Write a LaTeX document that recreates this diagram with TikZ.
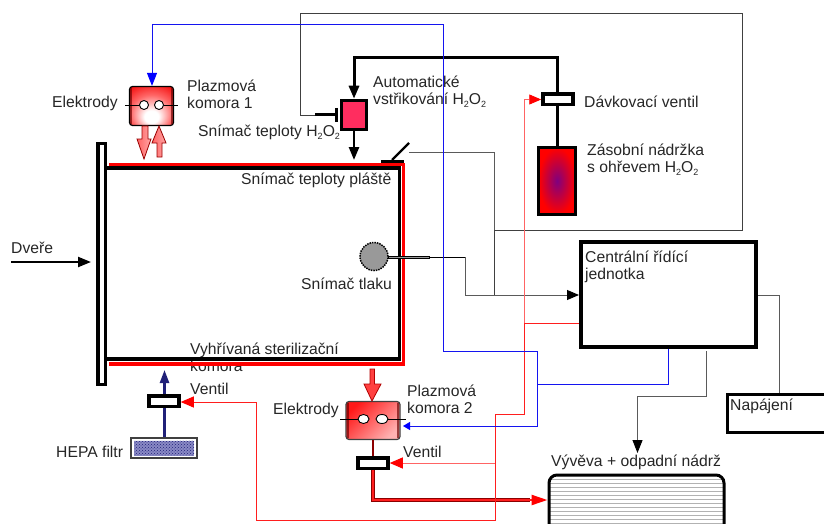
\documentclass[tikz,border=0pt]{standalone}
\usepackage{fontspec}
\setmainfont{Liberation Sans}
\usepackage{xcolor}
\usetikzlibrary{positioning, arrows.meta, shapes.misc, shapes.geometric, patterns}
\definecolor{wirered}{RGB}{255,30,30}
\definecolor{wirepink}{RGB}{255,100,100}
\definecolor{wireblue}{RGB}{20,20,240}
\definecolor{wiregray}{RGB}{90,90,90}
\definecolor{hepablue}{RGB}{40,40,150}
\definecolor{injectpink}{RGB}{255,45,95}
\newcommand{\hho}{H\raisebox{-3pt}{\fontsize{9}{9}\selectfont 2}O\raisebox{-3pt}{\fontsize{9}{9}\selectfont 2}}
\pgfdeclareradialshading{plasmaglow}{\pgfpoint{0bp}{-16bp}}{color(0bp)=(white); color(8bp)=(white); color(24bp)=(red!60!white); color(40bp)=(red!95!black); color(60bp)=(red!85!black)}
\tikzset{
  txt/.style={font=\fontsize{15.7}{16.8}\selectfont, inner sep=0pt, anchor=west, align=left, text=black!85},
  valve/.style={draw, line width=3.5pt, fill=white, inner sep=0pt, minimum width=30pt, minimum height=10.5pt},
  plasma/.style={draw, line width=1.2pt, rounded corners=3pt, inner sep=0pt},
  plasmaside/.style={line width=2pt, red!40!black, opacity=0.65},
  hole/.style={draw, line width=0.9pt, fill=white, ellipse, inner sep=0pt},
  thin wire/.style={line width=0.9pt},
  bigarrow/.style={draw=red!60!black, line width=0.8pt, left color=wirepink, right color=red!35!white}
}
\begin{document}
\begin{tikzpicture}[x=1pt, y=-1pt, >={Stealth[inset=0pt, length=13pt, width=10pt]}]
        \useasboundingbox (0,0) rectangle (824,524);
        \node[txt] (komora) at (190,357.5) {Vyhřívaná sterilizační\\komora};
        \coordinate (chamberTL) at (107,168);
        \coordinate (chamberTR) at (399.5,168);
        \coordinate (chamberBR) at (399.5,359);
        \coordinate (chamberBL) at (107,359);
        \coordinate (jacketTL) at (109,164.5);
        \coordinate (jacketTR) at (403.5,164.5);
        \coordinate (jacketBR) at (403.5,364);
        \coordinate (jacketBL) at (109,364);
        \draw[red, line width=3.5pt] (jacketTL) -- (jacketTR) -- (jacketBR) -- (jacketBL);
        \draw[line width=3.5pt] (chamberTL) -- (chamberTR) -- (chamberBR) -- (chamberBL);
        \node[draw, line width=3.5pt, fill=white, inner sep=0pt, minimum width=7.5pt, minimum height=241pt] (door) at (101.5,264) {};
        \coordinate (dverestart) at (11,262);
        \coordinate (doorin) at (91,262);
        \draw[->, line width=2.2pt] (dverestart) -- (doorin);
        \node[txt] (dvere) at (11,248) {Dveře};

        \node[plasma, minimum width=44pt, minimum height=39pt, shading=plasmaglow] (plasmaA) at (151.5,106) {};
        \draw[plasmaside] ([xshift=2pt,yshift=-2pt]plasmaA.north west) -- ([xshift=2pt,yshift=2pt]plasmaA.south west);
        \draw[plasmaside] ([xshift=-2pt,yshift=-2pt]plasmaA.north east) -- ([xshift=-2pt,yshift=2pt]plasmaA.south east);
        \node[hole, minimum width=9pt, minimum height=9pt] (holeA) at (144,105) {};
        \node[hole, minimum width=9pt, minimum height=9pt] (holeB) at (159,105) {};
        \coordinate (leadA) at (125,105);
        \coordinate (leadB) at (178,105);
        \draw[thin wire] (leadA) -- (holeA);
        \draw[thin wire] (holeB) -- (leadB);
        \node[txt] (elA) at (52,103) {Elektrody};
        \node[txt] (plA) at (187,94.5) {Plazmová\\komora 1};
        \draw[bigarrow] (142,126) -- (148,126) -- (148,139) -- (151,139) -- (144,159) -- (137,139) -- (142,139) -- cycle;
        \draw[bigarrow] (157,157) -- (162,157) -- (162,143) -- (166,143) -- (159,126) -- (152,143) -- (157,143) -- cycle;

        \node[draw, line width=3.5pt, fill=injectpink, inner sep=0pt, minimum width=25pt, minimum height=29pt] (inject) at (354,115) {};
        \node[txt] (autoinj) at (373,91.5) {Automatické\\vstřikování \hho};
        \node[txt] (snimacH) at (198,132) {Snímač teploty \hho};
        \node[valve] (dose) at (558,99.5) {};
        \node[txt] (dosetxt) at (584,102) {Dávkovací ventil};
        \node[draw, line width=3.5pt, inner color=blue!50!red, outer color=red, inner sep=0pt, minimum width=37pt, minimum height=67pt] (tank) at (557,181) {};
        \node[txt] (tanktxt) at (587,159.5) {Zásobní nádržka\\s ohřevem \hho};
        \coordinate (doseup) at (557,58);
        \coordinate (injup) at (354,58);
        \draw[line width=3pt, ->] (dose.north -| doseup) -- (doseup) -- (injup) -- (inject.north);
        \draw[line width=3pt] (dose.south -| doseup) -- (tank.north -| doseup);
        \coordinate (injdown) at (354,160);
        \draw[line width=2.5pt, ->] (inject.south) -- (injdown);

        \coordinate (capA) at (336,108);
        \coordinate (capB) at (336,122);
        \coordinate (capstem) at (336,115);
        \coordinate (capend) at (315,115);
        \draw[line width=3pt] (capA) -- (capB);
        \draw[line width=3pt] (capstem) -- (capend);
        \coordinate (ctrlA) at (300,115);
        \coordinate (ctrlB) at (300,13);
        \coordinate (ctrlC) at (742.5,13);
        \coordinate (ctrlD) at (742.5,230);
        \coordinate (ctrlE) at (494,230);
        \coordinate (ctrlF) at (494,295);
        \draw[thin wire, black!75] (capend) -- (ctrlA) -- (ctrlB) -- (ctrlC) -- (ctrlD) -- (ctrlE) -- (ctrlF);

        \node[draw, line width=4pt, inner sep=0pt, minimum width=175pt, minimum height=105pt] (central) at (668.5,294.5) {};
        \node[txt] (centraltxt) at (585,266.5) {Centrální řídící\\jednotka};
        \coordinate (presC) at (465,295);
        \coordinate (presB) at (465,257);
        \draw[thin wire, wiregray, -{Stealth[inset=0pt,length=12pt,width=10pt,black]}] (presB) -- (presC) -- (central.west |- presC);

        \coordinate (jacketbar) at (381,161);
        \coordinate (jacketbarR) at (404,161);
        \coordinate (sensA) at (392,160);
        \coordinate (sensB) at (409,143);
        \coordinate (sensC) at (409,152.5);
        \coordinate (sensD) at (494,152.5);
        \draw[line width=3pt] (jacketbar) -- (jacketbarR);
        \draw[line width=2.4pt] (sensA) -- (sensB);
        \draw[thin wire, wiregray] (sensC) -- (sensD) -- (ctrlE);
        \node[txt] (snimacJ) at (241,180) {Snímač teploty pláště};

        \node[draw, line width=1.5pt, densely dotted, circle, fill=black!40, inner sep=0pt, minimum size=28pt] (pressure) at (374,256.5) {};
        \node[draw, fill=black!40, line width=0.5pt, inner sep=0pt, minimum width=41pt, minimum height=2.5pt] (tube) at (409,257) {};
        \draw[thin wire] (tube.east) -- (presB);
        \node[txt] (snimacT) at (301,284) {Snímač tlaku};

        \node[valve] (ventA) at (164,401) {};
        \node[txt] (ventAtxt) at (190,389) {Ventil};
        \node[draw=black!75, line width=1.2pt, fill=white, inner sep=0pt, minimum width=66pt, minimum height=20pt] (hepa) at (164,448) {};
        \node[fill=hepablue!55, postaction={pattern=crosshatch dots, pattern color=hepablue!80!black}, inner sep=0pt, minimum width=60pt, minimum height=15pt] (hepacore) at (164,448) {};
        \node[txt] (hepatxt) at (56,452) {HEPA filtr};
        \coordinate (hepatip) at (164.5,370);
        \draw[line width=2.4pt, hepablue!80!black] (hepa.north -| hepatip) -- (ventA.south -| hepatip);
        \draw[line width=2.4pt, hepablue!80!black, -{Stealth[inset=0pt,length=13pt,width=9pt]}] (ventA.north -| hepatip) -- (hepatip);

        \node[plasma, minimum width=54pt, minimum height=38pt, draw=black!75, left color=red!90!white, right color=red!30!white, shading angle=45] (plasmaB) at (373,420.5) {};
        \draw[plasmaside] ([xshift=2.5pt,yshift=-2pt]plasmaB.north west) -- ([xshift=2.5pt,yshift=2pt]plasmaB.south west);
        \draw[plasmaside] ([xshift=-2.5pt,yshift=-2pt]plasmaB.north east) -- ([xshift=-2.5pt,yshift=2pt]plasmaB.south east);
        \node[hole, minimum width=11pt, minimum height=9pt] (holeC) at (363.5,419) {};
        \node[hole, minimum width=12pt, minimum height=9pt] (holeD) at (382,419) {};
        \coordinate (leadC) at (340,419);
        \coordinate (leadD) at (406,419);
        \draw[thin wire] (leadC) -- (holeC);
        \draw[thin wire] (holeD) -- (leadD);
        \node[txt] (elB) at (273,410) {Elektrody};
        \node[txt] (plB) at (407,399.5) {Plazmová\\komora 2};
        \draw[draw=red!70!black, fill=red!75!white, line width=0.8pt] (370,369) -- (374.5,369) -- (374.5,384) -- (381,384) -- (372,401) -- (364,384) -- (370,384) -- cycle;
        \node[valve] (ventB) at (373,463) {};
        \node[txt] (ventBtxt) at (403,452) {Ventil};
        \coordinate (pumpline) at (373,500);
        \draw[line width=2.4pt, red!55!black] (plasmaB.south -| pumpline) -- (ventB.north -| pumpline);

        \begin{scope}
          \clip[rounded corners=8pt] (549,475) rectangle (724,540);
          \foreach \yy in {479,483,...,523} \draw[black!30, line width=0.7pt] (549,\yy) -- (724,\yy);
        \end{scope}
        \node[draw, line width=3pt, rounded corners=8pt, inner sep=0pt, minimum width=175pt, minimum height=65pt] (pump) at (636.5,507.5) {};
        \node[txt] (pumptxt) at (551,462) {Vývěva + odpadní nádrž};
        \draw[line width=4pt, red!55!black] (ventB.south -| pumpline) -- (pumpline) -- (530,500);
        \draw[line width=2.4pt, wirered, -{Stealth[inset=0pt,length=16pt,width=10pt,red]}] (ventB.south -| pumpline) -- (pumpline) -- (pump.west |- pumpline);

        \coordinate (vacA) at (706,351);
        \coordinate (vacB) at (706,396);
        \coordinate (vacC) at (637.5,396);
        \coordinate (vacD) at (637.5,453);
        \draw[line width=1pt, wiregray, -{Stealth[inset=0pt,length=13pt,width=10pt,black]}] (vacA) -- (vacB) -- (vacC) -- (vacD);

        \node[draw, line width=3pt, inner sep=0pt, anchor=north west, minimum width=120pt, minimum height=38pt] (power) at (726,393) {};
        \node[txt] (powertxt) at (730,406) {Napájení};
        \coordinate (powA) at (779,295);
        \draw[thin wire, wiregray] (central.east |- powA) -- (powA) -- (powA |- power.north);

        \coordinate (redA) at (524,323);
        \coordinate (redB) at (524,99.5);
        \coordinate (redC) at (524,414);
        \coordinate (redD) at (495,414);
        \coordinate (redE) at (495,463);
        \coordinate (redF) at (495,520);
        \coordinate (redG) at (256.5,520);
        \coordinate (redH) at (256.5,402);
        \draw[thin wire, wirered] (central.west |- redA) -- (redA);
        \draw[thin wire, wirepink, -{Stealth[inset=0pt,length=12pt,width=10pt,red]}] (redA) -- (redB) -- (dose.west);
        \draw[thin wire, wirered] (redA) -- (redC) -- (redD) -- (redF) -- (redG) -- (redH);
        \draw[thin wire, wirered, -{Stealth[inset=0pt,length=13pt,width=11pt,red]}] (redH) -- (ventA.east |- redH);
        \draw[line width=1pt, wirepink, -{Stealth[inset=0pt,length=13pt,width=11pt,red]}] (redE) -- (ventB.east |- redE);

        \coordinate (blueA) at (668,384);
        \coordinate (blueB) at (537.5,384);
        \coordinate (blueC) at (537.5,351);
        \coordinate (blueD) at (443,351);
        \coordinate (blueE) at (443,24);
        \coordinate (blueF) at (152,24);
        \coordinate (blueG) at (537.5,426);
        \coordinate (blueH) at (403,426);
        \draw[thin wire, wireblue] (central.south -| blueA) -- (blueA) -- (blueB) -- (blueC) -- (blueD) -- (blueE) -- (blueF);
        \draw[thin wire, wireblue, -{Stealth[inset=0pt,length=13pt,width=10pt,blue]}] (blueF) -- (plasmaA.north -| blueF);
        \draw[thin wire, wireblue, -{Stealth[inset=0pt,length=7pt,width=8pt,blue]}] (blueB) -- (blueG) -- (blueH);
    \end{tikzpicture}
\end{document}
